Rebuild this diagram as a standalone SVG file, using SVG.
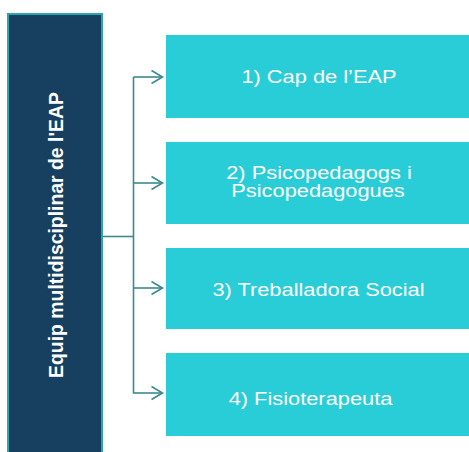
<svg xmlns="http://www.w3.org/2000/svg" width="469" height="452" viewBox="0 0 469 452">
  <defs>
    <style>
      .box { fill: #29CDD7; }
      .lbl { font-family: "Liberation Sans", Arial, sans-serif; font-size: 18.5px; fill: #FFFFFF; text-anchor: middle; }
      .conn { fill: none; stroke: #3A8A8F; stroke-width: 1.6; }
      .head { fill: none; stroke: #3A8A8F; stroke-width: 1.6; stroke-linejoin: miter; }
    </style>
  </defs>
  <rect width="469" height="452" fill="#FFFFFF"/>

  <g id="root">
    <rect x="8" y="14" width="94" height="446" fill="#173F5F" stroke="#2CA5AB" stroke-width="2"/>
    <text transform="translate(62.5,235) rotate(-90)" font-family="'Liberation Sans', Arial, sans-serif" font-size="19.4" font-weight="bold" fill="#FFFFFF" text-anchor="middle">Equip multidisciplinar de l'EAP</text>
  </g>

  <g id="connectors">
    <path class="conn" d="M103 236.5 H133.5"/>
    <path class="conn" d="M133.5 77 V393.5"/>
    <path class="conn" d="M133.5 77 H162"/>
    <path class="conn" d="M133.5 183 H162"/>
    <path class="conn" d="M133.5 288 H162"/>
    <path class="conn" d="M133.5 393 H162"/>
    <path class="head" d="M151.5 70.5 L162.5 77 L151.5 83.5"/>
    <path class="head" d="M151.5 176.5 L162.5 183 L151.5 189.5"/>
    <path class="head" d="M151.5 281.5 L162.5 288 L151.5 294.5"/>
    <path class="head" d="M151.5 386.5 L162.5 393 L151.5 399.5"/>
  </g>

  <g id="node1">
    <rect class="box" x="166" y="35" width="303" height="83"/>
    <text class="lbl" transform="translate(319,83) scale(1.18,1)">1) Cap de l’EAP</text>
  </g>

  <g id="node2">
    <rect class="box" x="166" y="142" width="303" height="82"/>
    <text class="lbl" transform="translate(319,179) scale(1.18,1)">2) Psicopedagogs i</text>
    <text class="lbl" transform="translate(318,197) scale(1.18,1)">Psicopedagogues</text>
  </g>

  <g id="node3">
    <rect class="box" x="166" y="248" width="303" height="81"/>
    <text class="lbl" transform="translate(318.5,296) scale(1.18,1)">3) Treballadora Social</text>
  </g>

  <g id="node4">
    <rect class="box" x="166" y="353" width="303" height="83"/>
    <text class="lbl" transform="translate(310.5,405) scale(1.18,1)">4) Fisioterapeuta</text>
  </g>
</svg>
